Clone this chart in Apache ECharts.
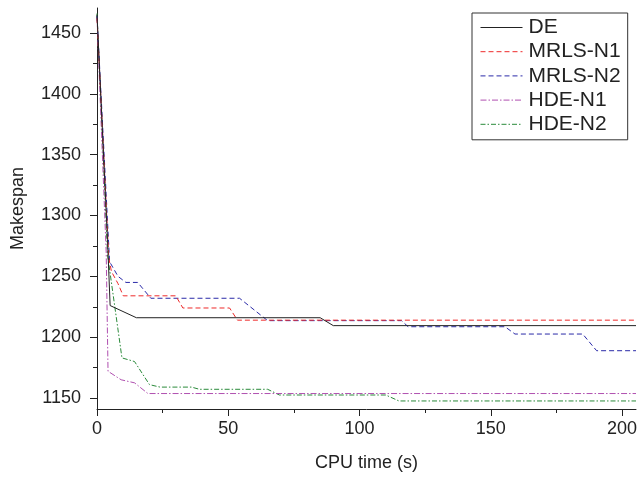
<!DOCTYPE html>
<html>
<head>
<meta charset="utf-8">
<script src="https://cdn.jsdelivr.net/npm/echarts@6/dist/echarts.min.js"></script>
<style>
html,body{margin:0;padding:0;background:#fff;}
#chart{width:641px;height:481px;}
</style>
</head>
<body>
<div id="chart"></div>
<script>
const seriesNames = ['DE', 'MRLS-N1', 'MRLS-N2', 'HDE-N1', 'HDE-N2'];
const xTickValues = [0, 50, 100, 150, 200];
const xMinorTickValues = [25, 75, 125, 175];
const yTickValues = [1150, 1200, 1250, 1300, 1350, 1400, 1450];
const yMinorTickValues = [1175, 1225, 1275, 1325, 1375, 1425];

const deData = [[0,1465],[4,1280],[5,1226],[15,1216],[85,1216],[90,1209.5],[205.3,1209.5]];
const mrlsN1Data = [[0,1462],[4.5,1265],[5.5,1254],[8,1244],[10,1234],[30,1234],[32.7,1224],[50.5,1224],[53.5,1214],[205.3,1214]];
const mrlsN2Data = [[0,1464],[4.8,1262],[8,1250],[11,1245],[15.5,1245],[20.5,1232],[54.3,1232],[65,1213.6],[116,1213.6],[118.5,1208.6],[155.4,1208.6],[159.2,1202.6],[185,1202.6],[190.3,1188.9],[205.3,1188.9]];
const hdeN1Data = [[0,1463],[3.5,1270],[4.2,1172],[9.2,1165],[14.3,1162.5],[19.4,1153.7],[205.3,1153.7]];
const hdeN2Data = [[0,1466],[4,1268],[9.5,1183],[14.3,1180],[20,1161],[24,1159],[36,1159],[39,1157.2],[65,1157.2],[69.5,1152.5],[110,1152.5],[115,1147.6],[205.3,1147.6]];

const colors = ['#222222', '#ee2a2a', '#2a2aa8', '#b050b0', '#2a8a3a'];
const dashes = ['solid', [5,3], [5,3], [6,2,1.5,2], [5,2,1.5,2]];
const allData = [deData, mrlsN1Data, mrlsN2Data, hdeN1Data, hdeN2Data];

const FONT = '"Liberation Sans", Arial, sans-serif';
const X_MIN = 0, X_MAX = 205.3, Y_MIN = 1141, Y_MAX = 1470.5;
const plain = v => String(v);

const chart = echarts.init(document.getElementById('chart'), null, {renderer: 'canvas'});

const option = {
  animation: false,
  backgroundColor: '#ffffff',
  textStyle: {fontFamily: FONT},
  grid: {left: 97, right: 5, top: 8, bottom: 72, containLabel: false},
  legend: {
    data: seriesNames,
    orient: 'vertical',
    left: 472,
    top: 13,
    borderColor: '#333',
    borderWidth: 1,
    padding: [4, 7, 5, 8],
    itemWidth: 42,
    itemHeight: 14,
    itemGap: 3.2,
    align: 'left',
    itemStyle: {opacity: 0},
    lineStyle: {width: 1},
    textStyle: {fontFamily: FONT, fontSize: 21, color: '#222', lineHeight: 20, padding: [0, 0, 0, 1]},
    backgroundColor: '#fff'
  },
  xAxis: [
    {
      type: 'value', min: X_MIN, max: X_MAX, position: 'bottom', offset: 0,
      name: 'CPU time (s)', nameLocation: 'middle', nameGap: 45,
      nameTextStyle: {fontFamily: FONT, fontSize: 18, color: '#222'},
      axisLine: {show: true, onZero: false, lineStyle: {color: '#222', width: 1}},
      axisTick: {show: true, inside: false, length: 7, customValues: xTickValues, lineStyle: {color: '#222'}},
      axisLabel: {customValues: xTickValues, formatter: plain, fontFamily: FONT, fontSize: 18, color: '#222', margin: 11},
      splitLine: {show: false}
    },
    {
      type: 'value', min: X_MIN, max: X_MAX, position: 'bottom', offset: 0,
      axisLine: {show: false},
      axisTick: {show: true, inside: false, length: 4, customValues: xMinorTickValues, lineStyle: {color: '#222'}},
      axisLabel: {show: false, customValues: xMinorTickValues},
      splitLine: {show: false}
    }
  ],
  yAxis: [
    {
      type: 'value', min: Y_MIN, max: Y_MAX, position: 'left', offset: 0,
      name: 'Makespan', nameLocation: 'middle', nameGap: 70,
      nameTextStyle: {fontFamily: FONT, fontSize: 18, color: '#222'},
      axisLine: {show: true, onZero: false, lineStyle: {color: '#222', width: 1}},
      axisTick: {show: true, inside: false, length: 7, customValues: yTickValues, lineStyle: {color: '#222'}},
      axisLabel: {customValues: yTickValues, formatter: plain, fontFamily: FONT, fontSize: 18, color: '#222', margin: 16},
      splitLine: {show: false}
    },
    {
      type: 'value', min: Y_MIN, max: Y_MAX, position: 'left', offset: 0,
      axisLine: {show: false},
      axisTick: {show: true, inside: false, length: 4, customValues: yMinorTickValues, lineStyle: {color: '#222'}},
      axisLabel: {show: false, customValues: yMinorTickValues},
      splitLine: {show: false}
    }
  ],
  series: seriesNames.map((name, i) => ({
    name: name,
    type: 'line',
    xAxisIndex: 0,
    yAxisIndex: 0,
    data: allData[i],
    symbol: 'none',
    showSymbol: false,
    smooth: false,
    clip: true,
    color: colors[i],
    lineStyle: {color: colors[i], width: 1, type: dashes[i]},
    itemStyle: {color: colors[i]},
    z: 2 + (seriesNames.length - i)
  }))
};

chart.setOption(option);
</script>
</body>
</html>
